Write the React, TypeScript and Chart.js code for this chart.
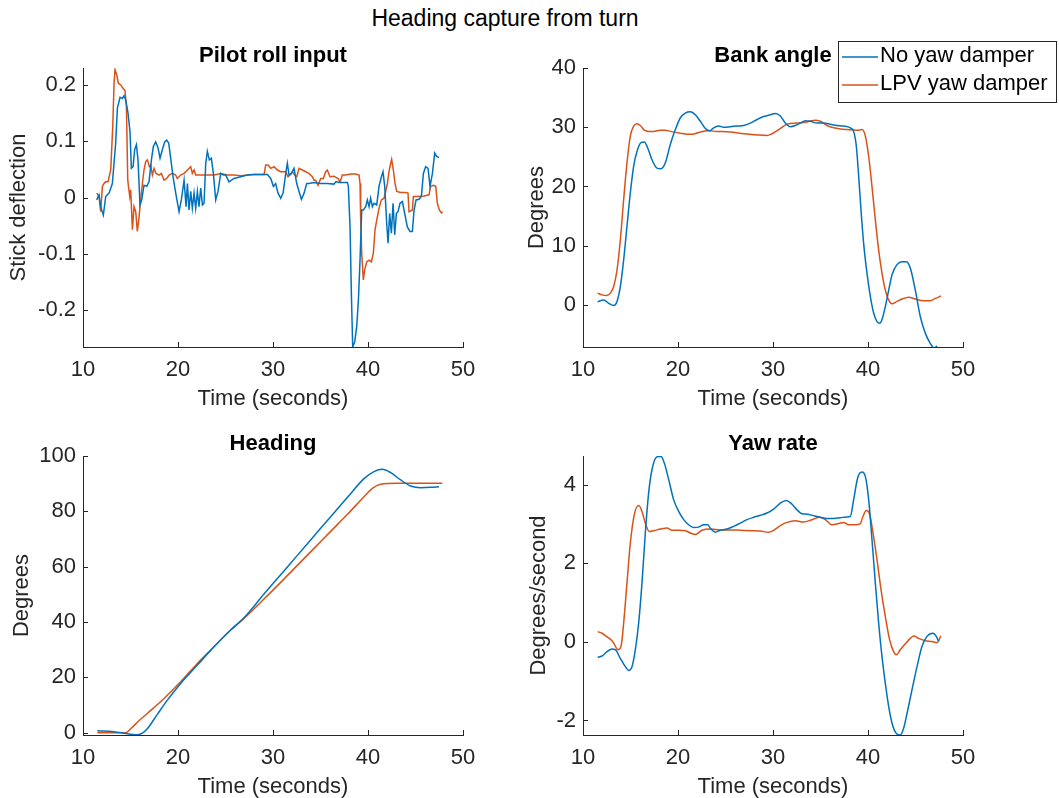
import React, { useEffect, useRef } from 'react';
import { Chart, registerables } from 'chart.js';

Chart.register(...registerables);

const FONT = '"Liberation Sans", Arial, Helvetica, sans-serif';
const BLUE = '#0072BD';
const ORANGE = '#D95319';
const AXIS = '#262626';

const SERIES_NAMES = ['No yaw damper', 'LPV yaw damper'];
const MAIN_TITLE = 'Heading capture from turn';
const X_LABEL = 'Time (seconds)';
const X_TICKS = [10, 20, 30, 40, 50];

// ---- Pilot roll input ----
const rollTimeNoYD = [11.44,11.69,11.86,12.14,12.39,12.74,13.09,13.44,13.62,13.90,14.14,14.32,14.50,14.74,14.95,15.09,15.27,15.44,15.62,15.79,16.00,16.18,16.42,16.71,16.95,17.20,17.41,17.65,17.90,18.11,18.35,18.60,18.81,19.02,19.23,19.48,19.76,20.11,20.35,20.64,20.85,20.99,21.16,21.34,21.51,21.69,21.86,22.04,22.21,22.39,22.57,22.74,22.92,23.09,23.30,23.51,23.72,23.97,24.21,24.50,24.78,25.02,25.37,25.90,26.60,27.30,28.00,28.71,29.41,29.76,30.04,30.28,30.53,30.81,31.06,31.34,31.51,31.69,31.93,32.21,32.50,32.74,32.99,33.27,33.55,33.79,34.32,35.02,35.72,36.42,36.60,37.13,37.83,37.93,38.11,38.25,38.39,38.60,38.81,38.99,39.16,39.34,39.51,39.76,39.93,40.11,40.28,40.46,40.64,40.92,41.16,41.41,41.58,41.76,41.97,42.11,42.28,42.46,42.64,42.81,42.99,43.16,43.37,43.62,43.86,44.14,44.42,44.67,44.85,45.06,45.37,45.62,45.83,46.07,46.32,46.53,46.78,47.02,47.23,47.48];
const rollNoYD = [-0.004,0.005,-0.016,-0.031,0.002,0.008,0.025,0.097,0.159,0.178,0.176,0.181,0.173,0.150,0.117,0.052,0.055,0.085,0.094,0.067,-0.013,-0.004,0.022,0.020,0.028,0.067,0.091,0.099,0.088,0.070,0.085,0.099,0.102,0.097,0.070,0.037,0.008,-0.025,-0.004,0.031,-0.016,0.025,-0.022,0.011,-0.019,0.008,-0.019,0.011,-0.016,0.017,-0.013,-0.010,0.061,0.082,0.067,0.070,0.043,-0.004,0.011,0.043,0.040,0.040,0.028,0.034,0.037,0.040,0.041,0.041,0.041,0.034,0.020,0.025,0.008,-0.001,0.008,0.043,0.061,0.040,0.043,0.052,0.025,0.011,-0.003,0.008,0.025,0.025,0.027,0.025,0.025,0.024,0.028,0.027,0.027,0.020,-0.052,-0.170,-0.265,-0.256,-0.229,-0.182,-0.111,-0.022,-0.022,-0.016,-0.004,-0.016,-0.001,-0.016,-0.010,-0.013,0.020,0.037,0.046,0.020,-0.046,-0.081,-0.028,-0.063,-0.010,-0.066,-0.028,-0.025,-0.010,-0.007,-0.028,-0.052,-0.060,-0.060,-0.022,-0.004,-0.003,0.002,0.043,0.055,0.052,0.020,0.043,0.079,0.073,0.071];
const rollTimeLPV = [11.44,11.69,11.86,12.04,12.21,12.39,12.63,12.92,13.13,13.27,13.37,13.55,13.72,13.97,14.21,14.42,14.57,14.71,14.81,14.92,15.02,15.20,15.37,15.55,15.72,15.90,16.07,16.25,16.42,16.60,16.78,16.99,17.13,17.30,17.48,17.69,18.00,18.25,18.53,18.81,19.06,19.41,19.76,19.93,20.28,20.64,20.99,21.34,21.51,21.69,21.86,22.39,23.09,23.79,24.50,25.20,25.90,26.60,27.30,28.00,29.06,29.23,29.48,29.76,30.11,30.46,30.81,31.34,31.58,31.79,32.04,32.28,32.50,32.74,33.09,33.44,33.79,34.14,34.32,34.49,34.74,35.02,35.30,35.55,35.72,36.00,36.42,36.85,37.06,37.30,37.65,38.18,38.71,39.06,39.16,39.23,39.34,39.51,39.65,39.86,40.11,40.35,40.56,40.74,40.92,41.16,41.41,41.69,41.86,42.04,42.21,42.39,42.49,42.67,42.85,43.02,43.44,43.97,44.21,44.32,44.67,44.78,45.20,45.90,46.42,46.60,46.88,47.13,47.30,47.51,47.72,47.86];
const rollLPV = [0.008,0.002,-0.025,0.020,0.025,0.028,0.028,0.049,0.126,0.203,0.227,0.218,0.203,0.200,0.194,0.190,0.162,0.031,0.017,0.002,0.014,-0.057,-0.016,-0.025,-0.060,-0.034,-0.004,0.025,0.049,0.064,0.067,0.055,0.058,0.040,0.052,0.043,0.040,0.043,0.031,0.034,0.040,0.043,0.040,0.034,0.040,0.043,0.049,0.055,0.043,0.049,0.040,0.040,0.040,0.040,0.043,0.040,0.040,0.039,0.040,0.041,0.041,0.058,0.058,0.052,0.055,0.049,0.046,0.046,0.037,0.040,0.046,0.040,0.037,0.052,0.049,0.046,0.043,0.037,0.031,0.031,0.022,0.034,0.034,0.046,0.049,0.037,0.038,0.034,0.028,0.040,0.040,0.042,0.042,0.040,0.025,-0.040,-0.099,-0.146,-0.128,-0.114,-0.111,-0.114,-0.099,-0.057,-0.040,-0.019,-0.004,-0.001,0.011,0.025,0.046,0.061,0.068,0.049,0.025,0.011,0.009,0.009,0.008,-0.025,-0.022,0.002,0.002,0.003,0.005,0.020,0.022,0.020,-0.010,-0.022,-0.027,-0.025];
const rollTicks = [-0.2, -0.1, 0, 0.1, 0.2];

// ---- Bank angle ----
const bankTimeNoYD = [11.54,12.18,12.70,13.23,13.58,13.93,14.28,14.63,14.98,15.33,15.68,16.11,16.46,16.81,17.26,17.79,18.21,18.67,19.19,19.72,20.25,20.77,21.30,21.82,22.35,22.88,23.33,23.75,24.28,24.81,25.51,26.21,26.91,27.61,28.32,29.02,29.72,30.25,30.77,31.30,31.82,32.35,32.88,33.40,33.93,34.63,35.33,36.04,36.74,37.44,38.14,38.49,38.77,39.02,39.26,39.54,39.89,40.25,40.60,40.95,41.23,41.47,41.82,42.18,42.53,43.05,43.58,44.04,44.46,44.98,45.51,46.04,46.56,46.98,47.26];
const bankNoYD = [0.56,0.85,0.28,-0.1,0.6,3.1,7.6,13.3,18.9,23.4,25.9,27.4,27.5,26.5,24.5,23.1,23.0,24.0,27.1,29.6,31.6,32.4,32.6,32.1,31.0,29.8,29.4,29.9,30.2,30.0,30.1,30.2,30.3,30.7,31.3,31.8,32.1,32.3,31.9,30.7,30.1,30.3,30.7,31.1,31.0,30.7,30.7,30.5,30.3,30.2,29.9,29.3,26.8,21.7,16.1,10.4,5.4,1.4,-1.4,-2.8,-3.1,-2.5,-0.3,2.5,5.1,6.8,7.3,7.3,6.2,2.5,-2.0,-4.8,-6.5,-7.3,-6.9];
const bankTimeLPV = [11.54,12.00,12.46,12.88,13.23,13.58,13.93,14.28,14.63,14.98,15.33,15.68,16.04,16.46,16.91,17.44,18.14,18.67,19.19,20.25,21.47,22.35,23.05,24.11,25.51,26.91,28.32,29.37,29.89,30.60,31.47,32.53,33.58,34.46,34.98,35.68,36.39,37.09,37.79,38.84,39.37,39.72,40.07,40.42,40.77,41.12,41.47,41.82,42.18,42.53,43.05,43.58,44.28,44.98,45.86,46.56,47.09,47.68];
const bankLPV = [2.0,1.7,1.6,2.0,3.1,5.9,11.0,17.8,24.0,28.5,30.2,30.6,30.3,29.5,29.3,29.3,29.5,29.5,29.3,29.0,28.8,29.2,29.4,29.3,29.2,28.9,28.7,28.6,28.9,29.6,30.5,30.7,30.9,31.2,31.0,30.3,29.9,29.7,29.6,29.5,29.6,28.5,25.1,20.0,14.4,9.3,5.4,2.5,0.8,0.2,0.6,1.0,1.3,1.0,0.7,0.7,1.1,1.5];
const bankTicks = [0, 10, 20, 30, 40];

// ---- Heading ----
const headTimeNoYD = [11.51,13.26,14.49,15.54,16.25,16.77,17.82,18.88,20.28,22.04,23.79,25.54,26.95,29.05,30.81,32.56,34.32,36.07,37.84,39.58,40.63,41.51,42.39,43.44,44.49,45.54,46.60,47.47];
const headNoYD = [0.72,0.36,-0.24,-0.72,-0.12,1.45,6.63,11.81,17.83,24.46,31.08,37.11,41.57,50.12,57.11,64.10,71.08,78.07,85.06,91.81,94.34,95.18,93.98,91.33,89.16,88.55,88.67,88.92];
const headTimeLPV = [11.51,13.26,14.49,15.02,15.89,16.77,18.53,20.28,22.04,23.79,25.54,26.95,29.05,30.81,32.56,34.32,36.07,37.84,39.58,40.46,41.33,43.09,47.82];
const headLPV = [0,0,0,1.45,4.34,6.99,12.41,18.43,25.06,31.08,37.11,41.33,48.31,54.34,60.48,66.63,72.77,78.92,85.30,88.31,89.76,90.12,90.12];
const headTicks = [0, 20, 40, 60, 80, 100];

// ---- Yaw rate ----
const yawTimeNoYD = [11.54,12.00,12.53,13.05,13.40,13.93,14.46,14.81,15.16,15.51,15.86,16.21,16.56,16.91,17.26,17.79,18.21,18.56,19.02,19.54,20.07,20.60,21.12,21.65,22.18,22.70,23.12,23.47,23.93,24.46,25.16,25.86,26.56,27.26,27.96,28.67,29.37,30.07,30.77,31.40,31.89,32.53,33.05,33.58,34.28,34.98,35.68,36.39,37.09,37.79,38.14,38.49,38.91,39.37,39.72,40.07,40.42,40.77,41.12,41.47,41.82,42.18,42.53,42.98,43.40,43.75,44.11,44.63,45.16,45.68,46.21,46.84,47.19,47.44];
const yawNoYD = [-0.39,-0.36,-0.25,-0.18,-0.20,-0.42,-0.63,-0.73,-0.63,-0.20,0.48,1.50,2.77,3.79,4.38,4.71,4.72,4.55,4.13,3.62,3.32,3.11,2.98,2.91,2.92,2.98,2.98,2.87,2.79,2.84,2.87,2.94,3.02,3.11,3.17,3.22,3.28,3.38,3.53,3.60,3.53,3.36,3.26,3.25,3.21,3.17,3.14,3.14,3.16,3.18,3.19,3.62,4.17,4.32,4.21,3.62,2.60,1.50,0.48,-0.37,-1.05,-1.65,-2.07,-2.33,-2.37,-2.20,-1.82,-1.22,-0.63,-0.12,0.14,0.22,0.14,0.01];
const yawTimeLPV = [11.54,12.00,12.46,12.88,13.23,13.68,14.00,14.28,14.63,14.98,15.40,15.86,16.21,16.56,16.98,17.44,18.14,18.84,19.37,20.07,20.77,21.30,21.82,22.53,23.40,24.46,25.51,26.56,27.61,28.67,29.54,30.07,30.77,31.47,32.35,33.23,34.11,34.91,35.51,36.21,36.91,37.44,37.96,38.67,39.19,39.47,39.82,40.18,40.53,40.95,41.37,41.82,42.28,42.70,42.98,43.40,43.93,44.46,44.81,45.33,46.04,46.74,47.26,47.68];
const yawLPV = [0.26,0.22,0.14,0.07,-0.03,-0.20,-0.12,0.48,1.50,2.51,3.24,3.47,3.32,3.02,2.81,2.83,2.87,2.90,2.84,2.84,2.83,2.77,2.73,2.84,2.87,2.85,2.85,2.84,2.83,2.82,2.79,2.84,2.96,3.04,3.08,3.05,3.11,3.17,3.11,2.98,3.01,3.04,2.98,2.98,3.01,3.19,3.34,3.24,2.77,2.09,1.33,0.65,0.05,-0.25,-0.33,-0.20,-0.05,0.09,0.15,0.09,0.03,0.01,-0.02,0.15];
const yawTicks = [-2, 0, 2, 4];

type Panel = {
  title: string;
  yLabel: string;
  yMin: number;
  yMax: number;
  yTicks: number[];
  series: { t: number[]; v: number[] }[];
  smooth: boolean;
  left: number; top: number; width: number; height: number;
  yAxisW: number; xAxisH: number; padTop: number; padRight: number;
  yTitlePad: number; xTitlePad: number;
  legend: boolean;
};

const PANELS: Panel[] = [
  {
    title: 'Pilot roll input', yLabel: 'Stick deflection', yMin: -0.265, yMax: 0.23, yTicks: rollTicks,
    series: [{ t: rollTimeNoYD, v: rollNoYD }, { t: rollTimeLPV, v: rollLPV }], smooth: false,
    left: 0, top: 30, width: 520, height: 390, yAxisW: 83, xAxisH: 73, padTop: 38, padRight: 57,
    yTitlePad: 8, xTitlePad: 10, legend: false,
  },
  {
    title: 'Bank angle', yLabel: 'Degrees', yMin: -7.1, yMax: 40, yTicks: bankTicks,
    series: [{ t: bankTimeNoYD, v: bankNoYD }, { t: bankTimeLPV, v: bankLPV }], smooth: true,
    left: 520, top: 30, width: 539, height: 390, yAxisW: 63, xAxisH: 73, padTop: 38, padRight: 96,
    yTitlePad: 6, xTitlePad: 10, legend: true,
  },
  {
    title: 'Heading', yLabel: 'Degrees', yMin: -0.8, yMax: 100, yTicks: headTicks,
    series: [{ t: headTimeNoYD, v: headNoYD }, { t: headTimeLPV, v: headLPV }], smooth: true,
    left: 0, top: 420, width: 520, height: 378, yAxisW: 83, xAxisH: 63, padTop: 36, padRight: 57,
    yTitlePad: 11, xTitlePad: 0, legend: false,
  },
  {
    title: 'Yaw rate', yLabel: 'Degrees/second', yMin: -2.37, yMax: 4.73, yTicks: yawTicks,
    series: [{ t: yawTimeNoYD, v: yawNoYD }, { t: yawTimeLPV, v: yawLPV }], smooth: true,
    left: 520, top: 420, width: 539, height: 378, yAxisW: 63, xAxisH: 63, padTop: 36, padRight: 96,
    yTitlePad: 8, xTitlePad: 0, legend: false,
  },
];

const COLORS = [BLUE, ORANGE];

const matlabAxes = {
  id: 'matlabAxes',
  afterDraw(chart: any, _args: any, opts: any) {
    const { ctx, chartArea } = chart;
    const xs = chart.scales.x;
    const ys = chart.scales.y;
    ctx.save();
    ctx.strokeStyle = AXIS;
    ctx.lineWidth = 1;
    ctx.beginPath();
    xs.ticks.forEach((t: any) => {
      const px = Math.round(xs.getPixelForValue(t.value)) + 0.5;
      ctx.moveTo(px, chartArea.bottom);
      ctx.lineTo(px, chartArea.bottom - 5);
    });
    ys.ticks.forEach((t: any) => {
      const py = Math.round(ys.getPixelForValue(t.value)) + 0.5;
      ctx.moveTo(chartArea.left, py);
      ctx.lineTo(chartArea.left + 5, py);
    });
    ctx.stroke();

    ctx.fillStyle = '#000';
    ctx.font = `bold 22px ${FONT}`;
    ctx.textAlign = 'center';
    ctx.textBaseline = 'middle';
    ctx.fillText(opts.title, (chartArea.left + chartArea.right) / 2, chartArea.top - 12);

    if (opts.legend) {
      const bx = 318, by = 11, bw = 219, bh = 62;
      ctx.fillStyle = '#fff';
      ctx.fillRect(bx, by, bw, bh);
      ctx.strokeStyle = AXIS;
      ctx.lineWidth = 1;
      ctx.strokeRect(bx + 0.5, by + 0.5, bw - 1, bh - 1);
      const rows = [27, 55];
      chart.data.datasets.forEach((ds: any, i: number) => {
        ctx.strokeStyle = ds.borderColor;
        ctx.lineWidth = 1.5;
        ctx.beginPath();
        ctx.moveTo(bx + 4, rows[i]);
        ctx.lineTo(bx + 40, rows[i]);
        ctx.stroke();
        ctx.fillStyle = '#000';
        ctx.font = `22px ${FONT}`;
        ctx.textAlign = 'left';
        ctx.textBaseline = 'middle';
        ctx.fillText(ds.label, bx + 42, rows[i] - 1);
      });
    }
    ctx.restore();
  },
};

function PanelChart({ p }: { p: Panel }) {
  const ref = useRef<HTMLCanvasElement | null>(null);
  useEffect(() => {
    if (!ref.current) return;
    const datasets = p.series.map((s, i) => {
      const n = Math.min(s.t.length, s.v.length);
      const data = [] as { x: number; y: number }[];
      for (let k = 0; k < n; k++) data.push({ x: s.t[k], y: s.v[k] });
      return {
        label: SERIES_NAMES[i],
        data,
        borderColor: COLORS[i],
        backgroundColor: COLORS[i],
        borderWidth: 1.5,
        pointRadius: 0,
        fill: false,
        clip: 0,
        tension: 0,
        cubicInterpolationMode: p.smooth ? 'monotone' : 'default',
      };
    });
    const chart = new Chart(ref.current, {
      type: 'line',
      data: { datasets } as any,
      plugins: [matlabAxes as any],
      options: {
        animation: false,
        responsive: false,
        maintainAspectRatio: false,
        events: [],
        layout: { padding: { top: p.padTop, right: p.padRight, bottom: 0, left: 0 } },
        plugins: {
          legend: { display: false },
          tooltip: { enabled: false },
          matlabAxes: { title: p.title, legend: p.legend },
        } as any,
        scales: {
          x: {
            type: 'linear',
            min: 10,
            max: 50,
            afterBuildTicks: (s: any) => { s.ticks = X_TICKS.map((v) => ({ value: v })); },
            afterFit: (s: any) => { s.height = p.xAxisH; },
            grid: { display: false, drawTicks: false },
            border: { display: true, color: AXIS, width: 1 },
            ticks: {
              color: AXIS, padding: 10, maxRotation: 0, autoSkip: false,
              font: { family: FONT, size: 22 },
              callback: (v: any) => String(v),
            },
            title: {
              display: true, text: X_LABEL, color: AXIS,
              font: { family: FONT, size: 22, lineHeight: 1 },
              padding: { top: 0, bottom: p.xTitlePad },
            },
          },
          y: {
            type: 'linear',
            min: p.yMin,
            max: p.yMax,
            afterBuildTicks: (s: any) => { s.ticks = p.yTicks.map((v) => ({ value: v })); },
            afterFit: (s: any) => { s.width = p.yAxisW; },
            grid: { display: false, drawTicks: false },
            border: { display: true, color: AXIS, width: 1 },
            ticks: {
              color: AXIS, padding: 7, autoSkip: false,
              font: { family: FONT, size: 22 },
              callback: (v: any) => String(Math.round(v * 1000) / 1000),
            },
            title: {
              display: true, text: p.yLabel, color: AXIS,
              font: { family: FONT, size: 22, lineHeight: 1 },
              padding: { top: p.yTitlePad, bottom: 0 },
            },
          },
        },
      } as any,
    });
    return () => chart.destroy();
  }, [p]);
  return (
    <canvas
      ref={ref}
      width={p.width}
      height={p.height}
      style={{ position: 'absolute', left: p.left, top: p.top, width: p.width, height: p.height }}
    />
  );
}

export default function App() {
  return (
    <div style={{ position: 'absolute', left: 0, top: 0, width: 1059, height: 798, background: '#fff', overflow: 'hidden' }}>
      <div
        style={{
          position: 'absolute', left: 505, top: 7, transform: 'translateX(-50%)', whiteSpace: 'nowrap',
          fontFamily: FONT, fontSize: 23, lineHeight: '23px', color: '#000',
        }}
      >
        {MAIN_TITLE}
      </div>
      {PANELS.map((p, i) => (
        <PanelChart key={i} p={p} />
      ))}
    </div>
  );
}
